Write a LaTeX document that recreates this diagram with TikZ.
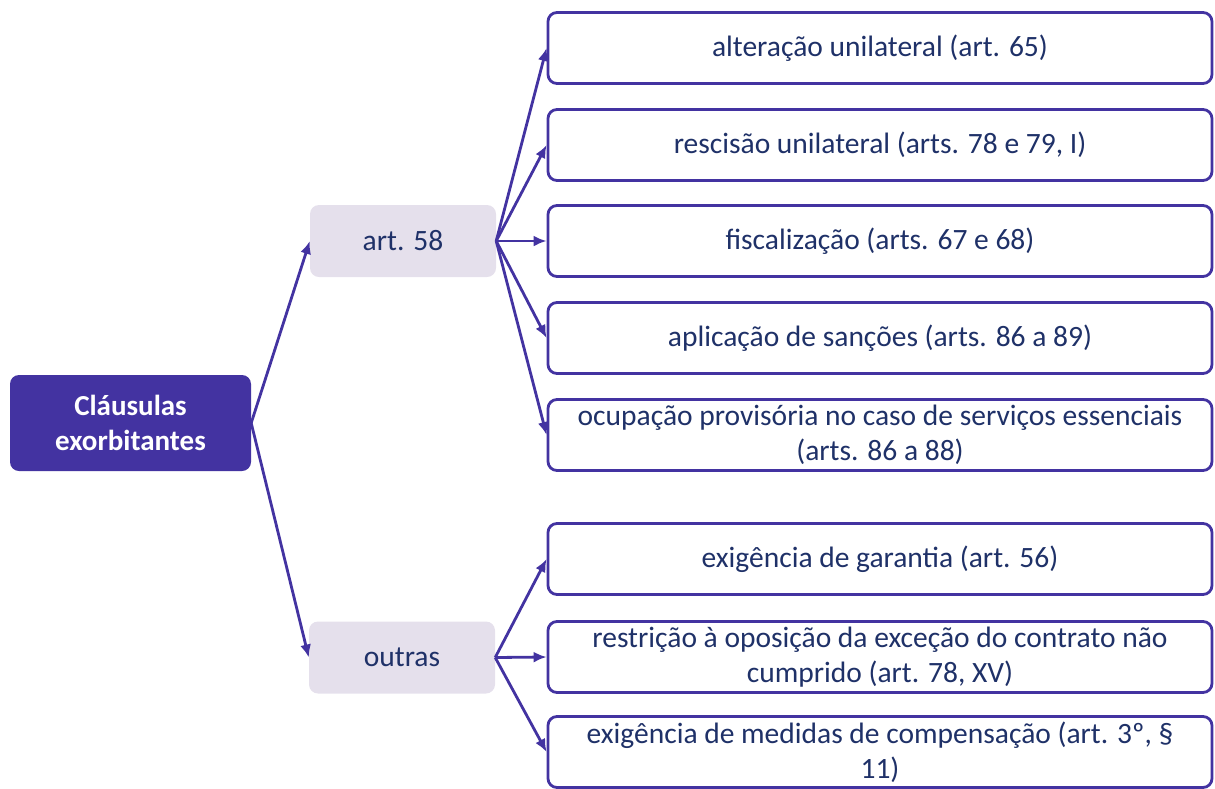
\documentclass[tikz,border=0pt]{standalone}
\usepackage{fontspec}
\setmainfont{Carlito}
\usepackage{tikz}
\usetikzlibrary{arrows.meta, positioning}
\definecolor{primary}{HTML}{4333A1}
\definecolor{LightLilac}{HTML}{E5E0EC}
\definecolor{NavyText}{HTML}{1F3168}
\tikzset{
    rootbox/.style={fill=primary, text=white, rounded corners=9pt, align=center, font=\fontsize{29}{35}\selectfont\bfseries, minimum width=241pt, minimum height=96pt, inner sep=0pt},
    midbox/.style={fill=LightLilac, text=NavyText, rounded corners=9pt, align=center, font=\fontsize{29.5}{35}\selectfont, minimum width=186pt, minimum height=72pt, inner sep=0pt},
    leafbox/.style={draw=primary, line width=2.8pt, fill=white, text=NavyText, rounded corners=9pt, align=center, font=\fontsize{29.5}{35}\selectfont, minimum width=664pt, minimum height=71pt, inner sep=0pt},
    arr/.style={-{Latex[length=13pt, width=11pt]}, line width=2.8pt, draw=primary}
}
\begin{document}
\begin{tikzpicture}[x=1pt, y=-1pt]
    \useasboundingbox (0,0) rectangle (1215,788);

    \node[rootbox] (root) at (130.5,423) {Cláusulas\\exorbitantes};

    \node[midbox] (art58) at (403,241) {art. 58};
    \node[midbox] (outras) at (402,657.5) {outras};

    \node[leafbox] (l1) at (880,48) {alteração unilateral (art. 65)};
    \node[leafbox] (l2) at (880,145) {rescisão unilateral (arts. 78 e 79, I)};
    \node[leafbox] (l3) at (880,241) {fiscalização (arts. 67 e 68)};
    \node[leafbox] (l4) at (880,338) {aplicação de sanções (arts. 86 a 89)};
    \node[leafbox] (l5) at (880,435) {ocupação provisória no caso de serviços essenciais\\(arts. 86 a 88)};

    \node[leafbox] (l6) at (880,559) {exigência de garantia (art. 56)};
    \node[leafbox] (l7) at (880,657) {restrição à oposição da exceção do contrato não\\cumprido (art. 78, XV)};
    \node[leafbox] (l8) at (880,752) {exigência de medidas de compensação (art. 3º, §\\11)};

    \draw[arr] (root.east) -- (art58.west);
    \draw[arr] (root.east) -- (outras.west);

    \foreach \n in {l1,l2,l3,l4,l5}
        \draw[arr] (art58.east) -- (\n.west);
    \foreach \n in {l6,l7,l8}
        \draw[arr] (outras.east) -- (\n.west);
\end{tikzpicture}
\end{document}
